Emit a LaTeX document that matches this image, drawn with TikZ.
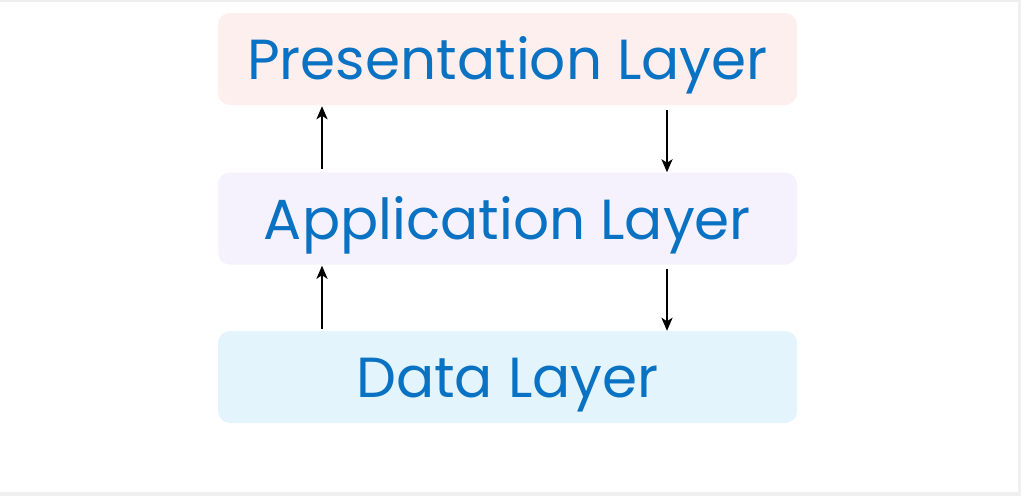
\documentclass[tikz,border=0pt]{standalone}
\usepackage{fontspec}
\setmainfont{Poppins}
\usetikzlibrary{arrows.meta}
\definecolor{txtblue}{HTML}{0A72C2}
\definecolor{presfill}{HTML}{FEEFEF}
\definecolor{appfill}{HTML}{F5F1FD}
\definecolor{datafill}{HTML}{E3F4FD}
\definecolor{edgegray}{HTML}{F0F0F0}
\tikzset{
  layer/.style={rectangle, rounded corners=12pt, minimum width=579pt, minimum height=92pt,
    inner sep=0pt, text height=41pt, text depth=0pt, text=txtblue,
    font=\fontsize{56.5}{60}\selectfont},
  flow/.style={-{Stealth[length=13pt,width=11pt,inset=3.5pt]}, line width=2.8pt, black}
}
\begin{document}
\begin{tikzpicture}[x=1pt,y=-1pt]
\useasboundingbox (0,0) rectangle (1021,496);
\fill[edgegray] (0,0) rectangle (1021,496);
\fill[white] (0,2) rectangle (1018,492);
\node[layer, fill=presfill] (pres) at (507.5,59) {Presentation Layer};
\node[layer, fill=appfill] (app) at (507.5,218.5) {Application Layer};
\node[layer, fill=datafill] (data) at (507.5,377) {Data Layer};
\draw[flow, shorten <=3pt, shorten >=1pt] ([xshift=-185.5pt]app.north) -- ([xshift=-185.5pt]pres.south);
\draw[flow, shorten <=5pt] ([xshift=159.5pt]pres.south) -- ([xshift=159.5pt]app.north);
\draw[flow, shorten <=2pt, shorten >=1pt] ([xshift=-185.5pt]data.north) -- ([xshift=-185.5pt]app.south);
\draw[flow, shorten <=4pt] ([xshift=159.5pt]app.south) -- ([xshift=159.5pt]data.north);
\end{tikzpicture}
\end{document}
